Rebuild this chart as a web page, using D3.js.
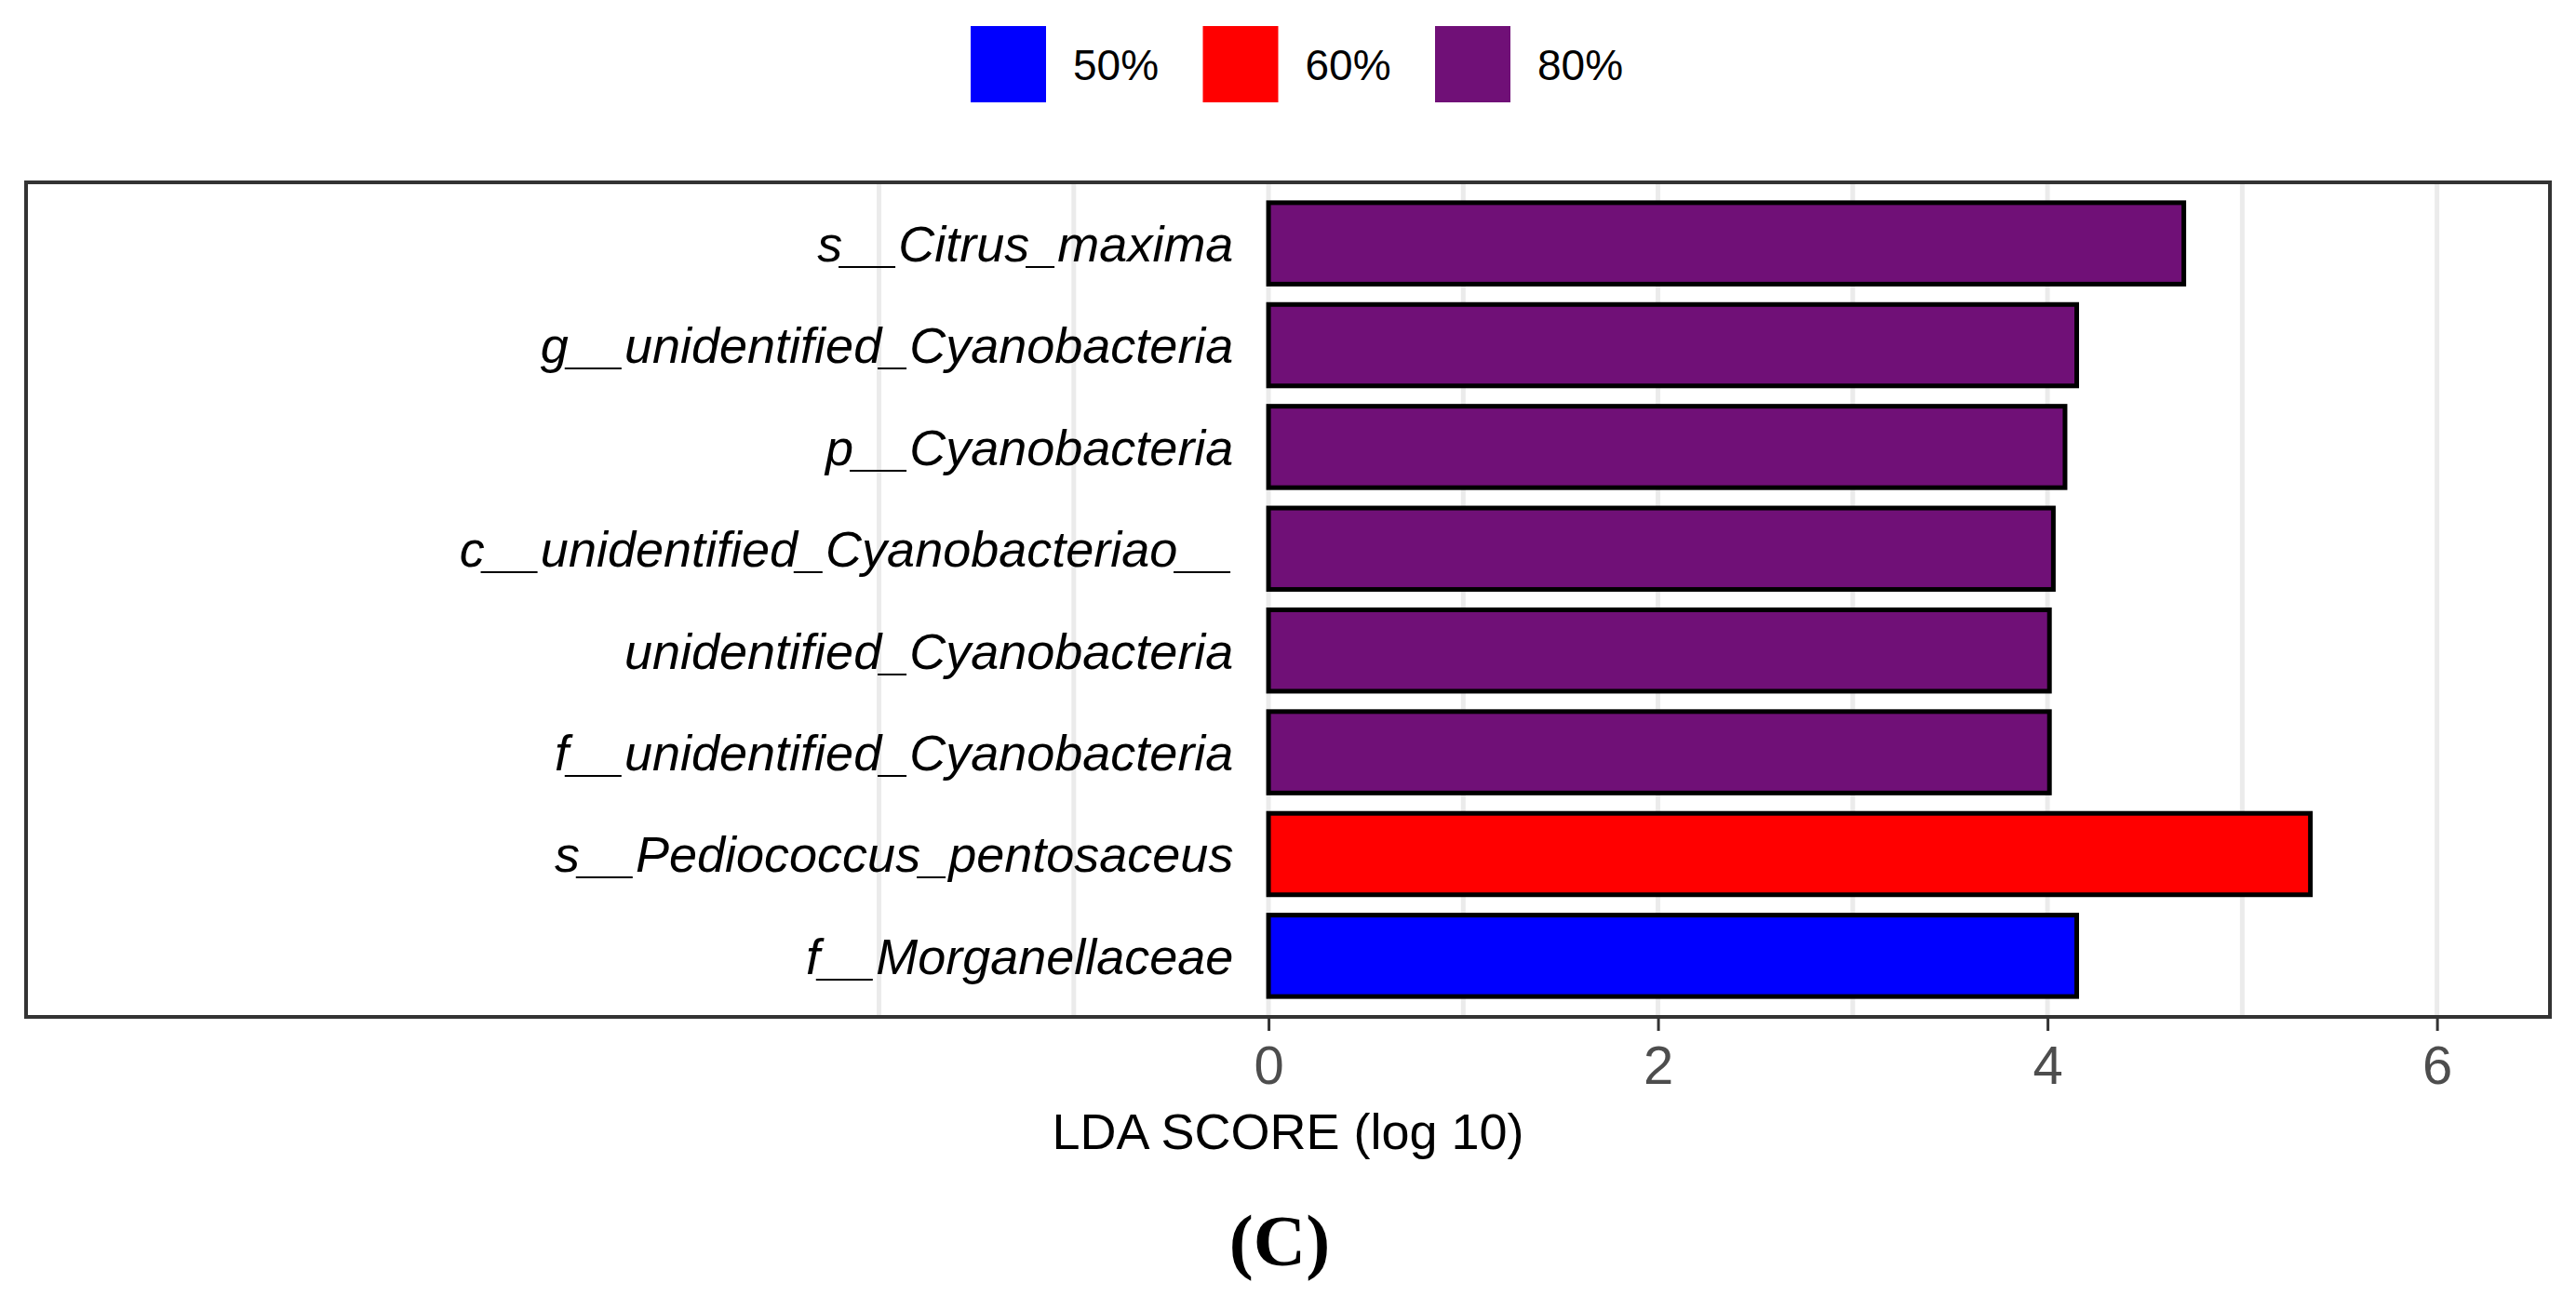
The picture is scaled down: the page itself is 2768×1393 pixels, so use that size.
<!DOCTYPE html>
<html>
<head>
<meta charset="utf-8">
<title>LDA score</title>
<script src="https://cdn.jsdelivr.net/npm/d3@7"></script>
<style>
  html, body { margin: 0; padding: 0; background: #fff; }
  svg { display: block; font-family: "Liberation Sans", Arial, sans-serif; }
</style>
</head>
<body>
<div id="chart-lda"></div>
<script>
/* LEfSe LDA score bar chart, panel (C) */

var taxa = [
  "s__Citrus_maxima",
  "g__unidentified_Cyanobacteria",
  "p__Cyanobacteria",
  "c__unidentified_Cyanobacteriao__",
  "unidentified_Cyanobacteria",
  "f__unidentified_Cyanobacteria",
  "s__Pediococcus_pentosaceus",
  "f__Morganellaceae"
];
var ldaScores = [4.70, 4.15, 4.09, 4.03, 4.01, 4.01, 5.35, 4.15];
var taxaGroup = ["80%", "80%", "80%", "80%", "80%", "80%", "60%", "50%"];

var groupNames = ["50%", "60%", "80%"];
var groupColors = ["#0000FF", "#FF0000", "#701077"];

var xTicks = [0, 2, 4, 6];
var gridBreaks = [-2, -1, 0, 1, 2, 3, 4, 5, 6];
var xTitle = "LDA SCORE (log 10)";
var panelTag = "(C)";

(function () {
  "use strict";

  var W = 2768, H = 1393;
  var panel = { x0: 28, x1: 2740, y0: 196, y1: 1093 };

  var svg = d3.select("#chart-lda").append("svg").attr("width", W).attr("height", H);

  var x = d3.scaleLinear().domain([-6.38, 6.58]).range([panel.x0, panel.x1]);
  var y = d3.scaleBand().domain(taxa).range([panel.y0, panel.y1])
    .paddingInner(0.2).paddingOuter(0.2);
  var color = d3.scaleOrdinal().domain(groupNames).range(groupColors);

  var rows = taxa.map(function (t, i) {
    return { name: t, score: ldaScores[i], group: taxaGroup[i] };
  });

  // grid
  svg.append("g").selectAll("line").data(gridBreaks).enter().append("line")
    .attr("x1", function (d) { return x(d); }).attr("x2", function (d) { return x(d); })
    .attr("y1", panel.y0).attr("y2", panel.y1)
    .attr("stroke", "#EBEBEB").attr("stroke-width", 5);

  // bars
  svg.append("g").selectAll("rect").data(rows).enter().append("rect")
    .attr("x", x(0))
    .attr("y", function (d) { return y(d.name); })
    .attr("width", function (d) { return x(d.score) - x(0); })
    .attr("height", y.bandwidth())
    .attr("fill", function (d) { return color(d.group); })
    .attr("stroke", "#000").attr("stroke-width", 5);

  // taxon labels inside the panel
  svg.append("g").selectAll("text").data(rows).enter().append("text")
    .attr("x", x(-0.18))
    .attr("y", function (d) { return y(d.name) + y.bandwidth() / 2; })
    .attr("dy", "0.36em")
    .attr("text-anchor", "end")
    .style("font-size", "54px").style("font-style", "italic").style("fill", "#000")
    .text(function (d) { return d.name; });

  // panel border
  svg.append("rect")
    .attr("x", panel.x0).attr("y", panel.y0)
    .attr("width", panel.x1 - panel.x0).attr("height", panel.y1 - panel.y0)
    .attr("fill", "none").attr("stroke", "#333333").attr("stroke-width", 4);

  // x axis
  var ax = svg.append("g").attr("transform", "translate(0," + panel.y1 + ")")
    .call(d3.axisBottom(x).tickValues(xTicks).tickSize(15).tickPadding(12).tickFormat(d3.format("d")));
  ax.select(".domain").remove();
  ax.selectAll(".tick line").attr("stroke", "#333333").attr("stroke-width", 3);
  ax.selectAll(".tick text")
    .attr("dy", null).attr("y", 72)
    .style("font-size", "58px").style("fill", "#4D4D4D")
    .style("font-family", "'Liberation Sans', Arial, sans-serif");

  svg.append("text")
    .attr("x", (panel.x0 + panel.x1) / 2).attr("y", 1235)
    .attr("text-anchor", "middle")
    .style("font-size", "54px").style("fill", "#000")
    .text(xTitle);

  // legend
  var leg = svg.append("g").attr("transform", "translate(1043,28)");
  var item = leg.selectAll("g").data(groupNames).enter().append("g")
    .attr("transform", function (d, i) { return "translate(" + (i * 249.5) + ",0)"; });
  item.append("rect").attr("width", 81).attr("height", 82)
    .attr("fill", function (d) { return color(d); });
  item.append("text").attr("x", 110).attr("y", 58)
    .style("font-size", "46px").style("fill", "#000")
    .text(function (d) { return d; });

  // panel tag
  svg.append("text")
    .attr("x", 1375).attr("y", 1360)
    .attr("text-anchor", "middle")
    .style("font-family", "'Liberation Serif', 'Times New Roman', serif")
    .style("font-weight", "bold").style("font-size", "78px").style("fill", "#000")
    .text(panelTag);
})();
</script>
</body>
</html>
